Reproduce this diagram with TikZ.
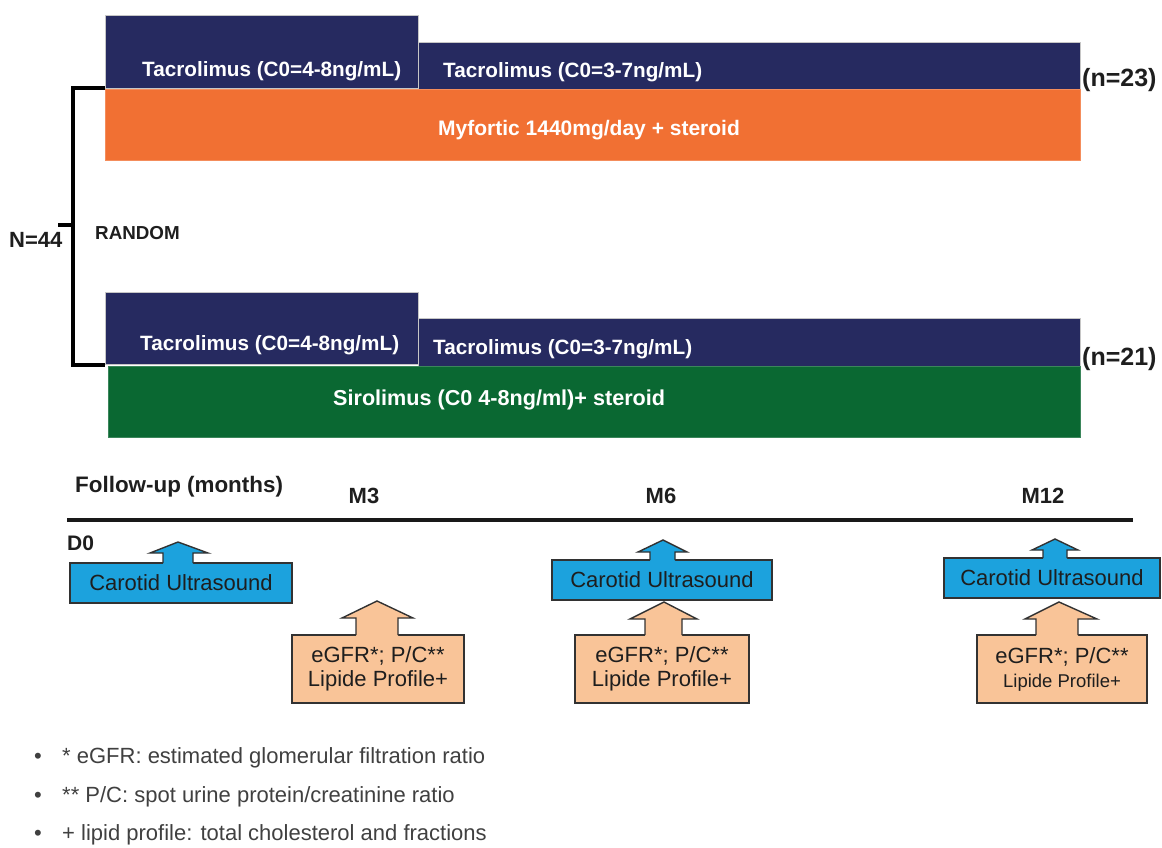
\documentclass[tikz,border=0pt]{standalone}
\usepackage{fontspec}
\setmainfont{Liberation Sans}
\definecolor{navy}{RGB}{38,42,96}
\definecolor{orng}{RGB}{241,112,51}
\definecolor{grn}{RGB}{10,104,50}
\definecolor{cyn}{RGB}{28,162,221}
\definecolor{peach}{RGB}{249,196,152}
\definecolor{ink}{RGB}{30,30,30}
\definecolor{edge}{RGB}{50,50,50}
\newcommand\fs[2]{\fontsize{#1}{#2}\selectfont}
\begin{document}
\begin{tikzpicture}[x=1pt,y=-1pt,
  bar/.style={draw=gray!45, line width=0.6pt, inner sep=0pt, outer sep=0pt, anchor=north west},
  wlab/.style={text=white, font=\bfseries\fs{20.7}{24}, inner sep=0pt, anchor=base west},
  blab/.style={text=ink, font=\bfseries\fs{22}{26}, inner sep=0pt, anchor=base west},
  brk/.style={line width=3.5pt, black},
  cbox/.style={draw=edge, line width=1.4pt, inner sep=0pt, outer sep=0pt, anchor=north west, text=ink, align=center},
  cline/.style={draw=edge, line width=1.4pt, line join=miter},
  note/.style={text=ink!85, font=\fs{22}{26}, inner sep=0pt, anchor=base west}]
\useasboundingbox (0,0) rectangle (1162,847);
% ---------- upper arm ----------
\node[bar, fill=navy, minimum width=313pt, minimum height=73pt] (ta1) at (105,15) {};
\node[bar, fill=navy, minimum width=662pt, minimum height=47pt] (ta2) at (418,42) {};
\node[bar, fill=orng, draw=orng!80!white, minimum width=975pt, minimum height=71pt] (my) at (105,89) {};
\node[wlab] (ta1t) at (142,76) {Tacrolimus (C0=4-8ng/mL)};
\node[wlab] (ta2t) at (443,77) {Tacrolimus (C0=3-7ng/mL)};
\node[wlab, font=\bfseries\fs{21}{24}] (myt) at (438,135) {Myfortic 1440mg/day + steroid};
\node[blab, font=\bfseries\fs{25}{28}] (n23) at (1082,86) {(n=23)};
% ---------- lower arm ----------
\node[bar, fill=navy, minimum width=313pt, minimum height=72pt] (tb1) at (105,292) {};
\node[bar, fill=navy, minimum width=662pt, minimum height=48pt] (tb2) at (418,318) {};
\node[bar, fill=grn, draw=grn!80!white, minimum width=972pt, minimum height=71pt] (si) at (108,366) {};
\node[wlab] (tb1t) at (140,350) {Tacrolimus (C0=4-8ng/mL)};
\node[wlab] (tb2t) at (433,354) {Tacrolimus (C0=3-7ng/mL)};
\node[wlab, font=\bfseries\fs{21.6}{24}] (sit) at (333,405) {Sirolimus (C0 4-8ng/ml)+ steroid};
\node[blab, font=\bfseries\fs{25}{28}] (n21) at (1082,365) {(n=21)};
% ---------- randomisation bracket ----------
\coordinate (bt) at (105,88);
\coordinate (bb) at (105,365);
\draw[brk] (bt) -- (73,88) -- (73,365) -- (bb);
\draw[brk] (58,225) -- (73,225);
\node[blab] (N) at (9,247) {N=44};
\node[blab, font=\bfseries\fs{18.8}{22}] (rand) at (95,239) {RANDOM};
% ---------- timeline ----------
\node[blab, font=\bfseries\fs{22.4}{26}] (fu) at (75,492) {Follow-up (months)};
\node[blab, anchor=base] (m3) at (364,503) {M3};
\node[blab, anchor=base] (m6) at (661,503) {M6};
\node[blab, anchor=base] (m12) at (1043,503) {M12};
\coordinate (tl0) at (67,520);
\coordinate (tl1) at (1133,520);
\draw[line width=3.2pt, black!90] (tl0) -- (tl1);
\node[blab, font=\bfseries\fs{21}{24}] (d0) at (67,550) {D0};
% ---------- D0 carotid ----------
\node[cbox, fill=cyn, minimum width=222pt, minimum height=40pt, font=\fs{22}{26}] (c0) at (70,563) {Carotid Ultrasound};
\fill[cyn] (163,564.5) -- (163,553) -- (150,553) -- (178,542) -- (208,553) -- (193,553) -- (193,564.5) -- cycle;
\draw[cline] (163,563) -- (163,553) -- (150,553) -- (178,542) -- (208,553) -- (193,553) -- (193,563);
% ---------- M3 labs ----------
\node[cbox, fill=peach, minimum width=172pt, minimum height=68pt, font=\fs{22}{24}] (l3) at (292,635) {eGFR*; P/C**\\Lipide Profile+};
\fill[peach] (356,636.5) -- (356,618) -- (342,618) -- (377,601) -- (413,618) -- (398,618) -- (398,636.5) -- cycle;
\draw[cline] (356,635) -- (356,618) -- (342,618) -- (377,601) -- (413,618) -- (398,618) -- (398,635);
% ---------- M6 carotid ----------
\node[cbox, fill=cyn, minimum width=220pt, minimum height=40pt, font=\fs{22}{26}] (c6) at (552,560) {Carotid Ultrasound};
\fill[cyn] (650,561.5) -- (650,552) -- (638,552) -- (663,540) -- (687,552) -- (675,552) -- (675,561.5) -- cycle;
\draw[cline] (650,560) -- (650,552) -- (638,552) -- (663,540) -- (687,552) -- (675,552) -- (675,560);
% ---------- M6 labs ----------
\node[cbox, fill=peach, minimum width=174pt, minimum height=68pt, font=\fs{22}{24}] (l6) at (575,635) {eGFR*; P/C**\\Lipide Profile+};
\fill[peach] (645,636.5) -- (645,619) -- (630,619) -- (664,602) -- (697,619) -- (682,619) -- (682,636.5) -- cycle;
\draw[cline] (645,635) -- (645,619) -- (630,619) -- (664,602) -- (697,619) -- (682,619) -- (682,635);
% ---------- M12 carotid ----------
\node[cbox, fill=cyn, minimum width=216pt, minimum height=40pt, font=\fs{22}{26}] (c12) at (944,558) {Carotid Ultrasound};
\fill[cyn] (1043,559.5) -- (1043,550) -- (1032,550) -- (1055,539) -- (1078,550) -- (1067,550) -- (1067,559.5) -- cycle;
\draw[cline] (1043,558) -- (1043,550) -- (1032,550) -- (1055,539) -- (1078,550) -- (1067,550) -- (1067,558);
% ---------- M12 labs ----------
\node[cbox, fill=peach, minimum width=170pt, minimum height=68pt, font=\fs{22}{24}] (l12) at (977,635) {eGFR*; P/C**\\{\fs{18.5}{22}Lipide Profile+}};
\fill[peach] (1036,636.5) -- (1036,619) -- (1025,619) -- (1059,602) -- (1097,619) -- (1078,619) -- (1078,636.5) -- cycle;
\draw[cline] (1036,635) -- (1036,619) -- (1025,619) -- (1059,602) -- (1097,619) -- (1078,619) -- (1078,635);
% ---------- footnotes ----------
\node[note] (b1) at (34,763) {•};
\node[note] (f1) at (62,763) {* eGFR: estimated glomerular filtration ratio};
\node[note] (b2) at (34,802) {•};
\node[note] (f2) at (62,802) {** P/C: spot urine protein/creatinine ratio};
\node[note] (b3) at (34,840) {•};
\node[note] (f3) at (62,840) {+ lipid profile: total cholesterol and fractions};
\end{tikzpicture}
\end{document}
